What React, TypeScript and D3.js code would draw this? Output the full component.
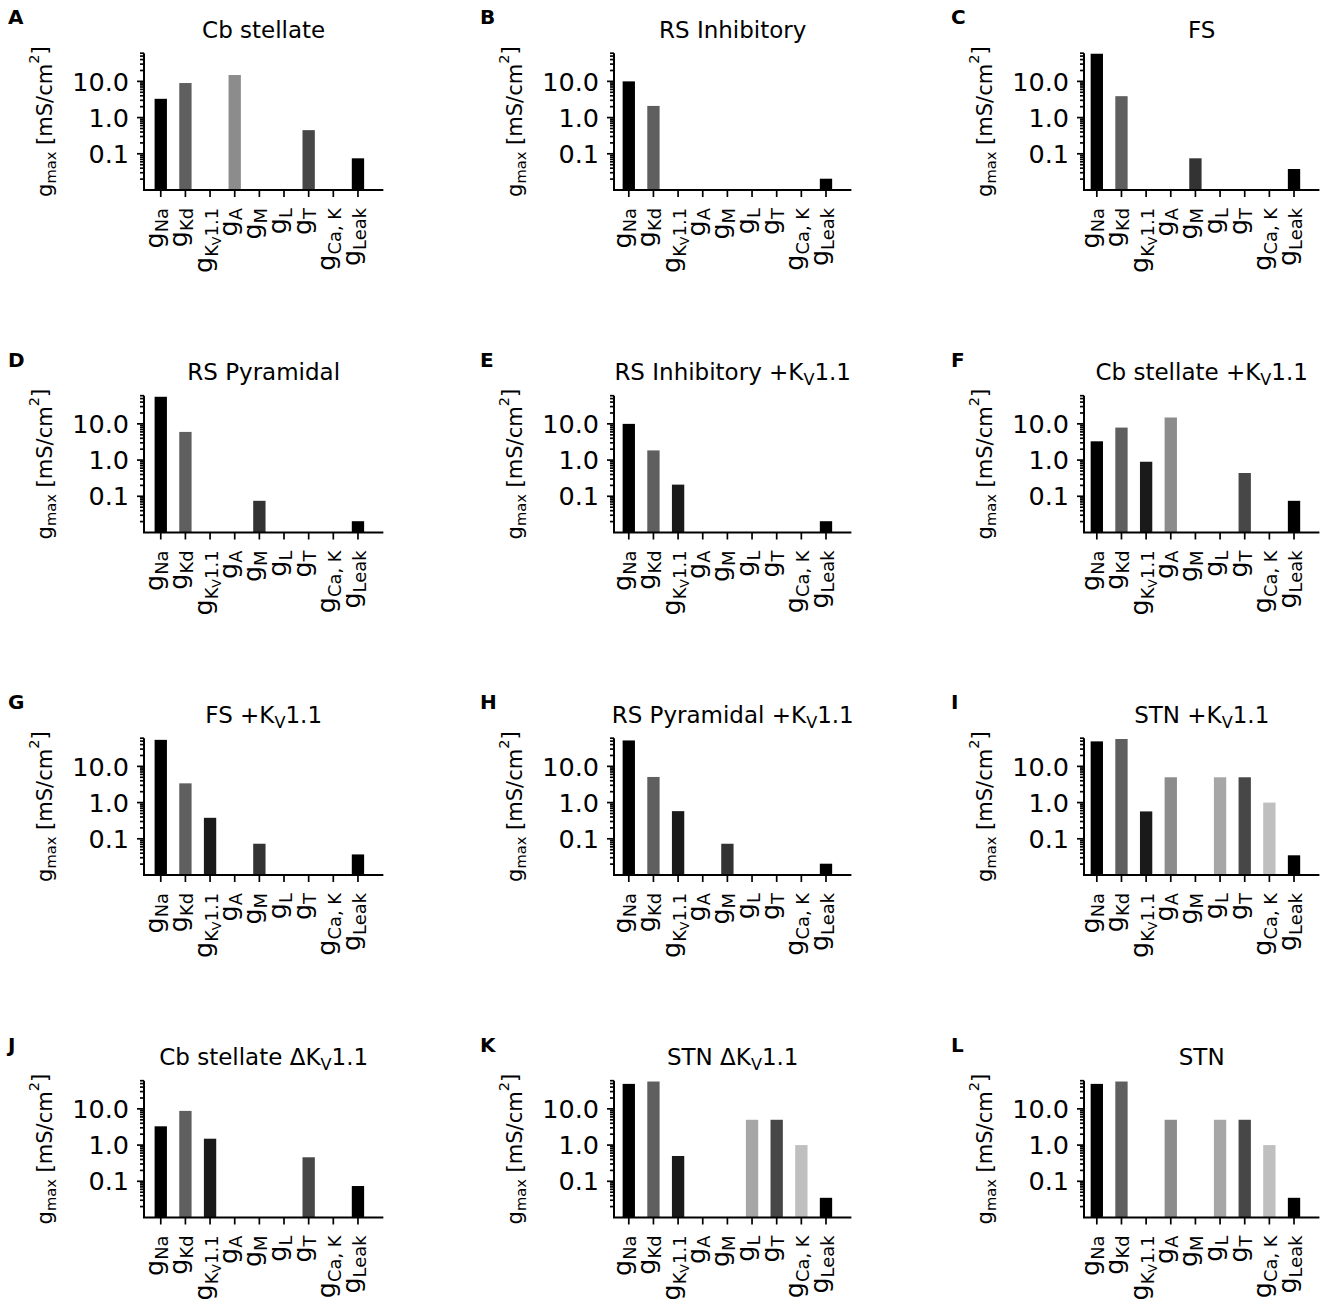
import React from 'react';
import * as d3 from 'd3';

// channel order on the x axis
const channels = ['Na', 'Kd', 'Kv1.1', 'A', 'M', 'L', 'T', 'CaK', 'Leak'];

type Seg = { t: string; lvl: number };

const tickLabels: Seg[][] = [
  [{ t: 'g', lvl: 0 }, { t: 'Na', lvl: 1 }],
  [{ t: 'g', lvl: 0 }, { t: 'Kd', lvl: 1 }],
  [{ t: 'g', lvl: 0 }, { t: 'K', lvl: 1 }, { t: 'V', lvl: 2 }, { t: '1.1', lvl: 1 }],
  [{ t: 'g', lvl: 0 }, { t: 'A', lvl: 1 }],
  [{ t: 'g', lvl: 0 }, { t: 'M', lvl: 1 }],
  [{ t: 'g', lvl: 0 }, { t: 'L', lvl: 1 }],
  [{ t: 'g', lvl: 0 }, { t: 'T', lvl: 1 }],
  [{ t: 'g', lvl: 0 }, { t: 'Ca, K', lvl: 1 }],
  [{ t: 'g', lvl: 0 }, { t: 'Leak', lvl: 1 }],
];

const barColors = ['#000000', '#5f5f5f', '#1a1a1a', '#8c8c8c', '#333333', '#a6a6a6', '#474747', '#bfbfbf', '#000000'];

const yTicks = [0.1, 1, 10];
const yTickLabels = ['0.1', '1.0', '10.0'];

// g_max values in mS/cm^2 (0 = channel absent)
const cbStellate = [3.3, 9.0, 0, 15, 0, 0, 0.45, 0, 0.075];
const rsInhib = [10, 2.1, 0, 0, 0, 0, 0, 0, 0.0205];
const fs = [58, 3.9, 0, 0, 0.075, 0, 0, 0, 0.038];
const rsPyr = [56, 6.0, 0, 0, 0.075, 0, 0, 0, 0.0205];
const rsInhibKv = [10, 1.85, 0.21, 0, 0, 0, 0, 0, 0.0205];
const cbStellateKv = [3.3, 7.9, 0.9, 15, 0, 0, 0.44, 0, 0.075];
const fsKv = [54, 3.4, 0.38, 0, 0.073, 0, 0, 0, 0.037];
const rsPyrKv = [52, 5.1, 0.58, 0, 0.073, 0, 0, 0, 0.0205];
const stnKv = [49, 57, 0.57, 5, 0, 5, 5, 1, 0.035];
const cbStellateDKv = [3.3, 8.8, 1.5, 0, 0, 0, 0.46, 0, 0.074];
const stnDKv = [49, 57, 0.5, 0, 0, 5, 5, 1, 0.035];
const stn = [49, 57, 0, 5, 0, 5, 5, 1, 0.035];

const panelValues = [
  cbStellate, rsInhib, fs,
  rsPyr, rsInhibKv, cbStellateKv,
  fsKv, rsPyrKv, stnKv,
  cbStellateDKv, stnDKv, stn,
];

const panelTitles: Seg[][] = [
  [{ t: 'Cb stellate', lvl: 0 }],
  [{ t: 'RS Inhibitory', lvl: 0 }],
  [{ t: 'FS', lvl: 0 }],
  [{ t: 'RS Pyramidal', lvl: 0 }],
  [{ t: 'RS Inhibitory +K', lvl: 0 }, { t: 'V', lvl: 1 }, { t: '1.1', lvl: 0 }],
  [{ t: 'Cb stellate +K', lvl: 0 }, { t: 'V', lvl: 1 }, { t: '1.1', lvl: 0 }],
  [{ t: 'FS +K', lvl: 0 }, { t: 'V', lvl: 1 }, { t: '1.1', lvl: 0 }],
  [{ t: 'RS Pyramidal +K', lvl: 0 }, { t: 'V', lvl: 1 }, { t: '1.1', lvl: 0 }],
  [{ t: 'STN +K', lvl: 0 }, { t: 'V', lvl: 1 }, { t: '1.1', lvl: 0 }],
  [{ t: 'Cb stellate \u0394K', lvl: 0 }, { t: 'V', lvl: 1 }, { t: '1.1', lvl: 0 }],
  [{ t: 'STN \u0394K', lvl: 0 }, { t: 'V', lvl: 1 }, { t: '1.1', lvl: 0 }],
  [{ t: 'STN', lvl: 0 }],
];

const panelLetters = ['A', 'B', 'C', 'D', 'E', 'F', 'G', 'H', 'I', 'J', 'K', 'L'];

// layout
const W = 1325;
const H = 1308;
const colAxisLeft = [144, 614, 1084];
const colXMin = [-0.68, -0.6, -0.52];
const xMax = 9.03;
const step = 24.65;
const rowBottom = [190, 532.5, 875, 1217.5];
const axisHeight = 136.8;
const letterX = [8, 480, 951];
const font = 'DejaVu Sans, sans-serif';
const ink = '#000';
const titleSize = 23;
const tickSize = 25.5;
const labelSize = 21;

const sizeScale = [1, 0.7, 0.5];
const subShift = [0, 0.22, 0.34];

function renderSegs(segs: Seg[], base: number) {
  let cur = 0;
  return segs.map((s, i) => {
    const off = subShift[s.lvl] * base;
    const dy = off - cur;
    cur = off;
    return (
      <tspan key={i} fontSize={base * sizeScale[s.lvl]} dy={dy}>
        {s.t}
      </tspan>
    );
  });
}

const yLabelSegs: Seg[] = [{ t: 'g', lvl: 0 }, { t: 'max', lvl: 1 }, { t: ' [mS/cm', lvl: 0 }];

function Panel({ idx }: { idx: number }) {
  const col = idx % 3;
  const row = Math.floor(idx / 3);
  const left = colAxisLeft[col];
  const right = left + (xMax - colXMin[col]) * step;
  const bottom = rowBottom[row];
  const top = bottom - axisHeight;

  const x = d3.scaleLinear().domain([colXMin[col], xMax]).range([left, right]);
  const y = d3.scaleLog().domain([0.01, 60]).range([bottom, top]);
  const bw = x(0.5) - x(0);

  const minorTicks: number[] = [];
  [0.01, 0.1, 1, 10].forEach(dec => {
    for (let k = 2; k <= 9; k++) {
      const v = dec * k;
      if (v <= 60.0001) minorTicks.push(v);
    }
  });

  const values = panelValues[idx];
  const midY = (top + bottom) / 2;
  const ylx = left - 92.5;

  return (
    <g>
      <text x={letterX[col]} y={bottom - 166} fontSize={20} fontWeight="bold" fontFamily={font} fill={ink}>
        {panelLetters[idx]}
      </text>
      <text x={(left + right) / 2} y={top - 15.5} fontSize={titleSize} fontFamily={font} textAnchor="middle" fill={ink}>
        {renderSegs(panelTitles[idx], titleSize)}
      </text>

      {values.map((v, i) =>
        v > 0.01 ? (
          <rect
            key={i}
            x={x(i) - bw / 2}
            y={y(v)}
            width={bw}
            height={bottom - y(v)}
            fill={barColors[i]}
          />
        ) : null
      )}

      {/* y axis */}
      <line x1={left} x2={left} y1={bottom} y2={top} stroke={ink} strokeWidth={2} />
      {minorTicks.map(v => (
        <line key={'m' + v} x1={left - 4} x2={left} y1={y(v)} y2={y(v)} stroke={ink} strokeWidth={1.7} />
      ))}
      {yTicks.map((v, i) => (
        <g key={'t' + v}>
          <line x1={left - 7} x2={left} y1={y(v)} y2={y(v)} stroke={ink} strokeWidth={1.7} />
          <text x={left - 15} y={y(v)} dy="0.36em" fontSize={tickSize} fontFamily={font} textAnchor="end" fill={ink}>
            {yTickLabels[i]}
          </text>
        </g>
      ))}
      <text
        transform={`translate(${ylx},${midY}) rotate(-90)`}
        fontSize={labelSize}
        fontFamily={font}
        textAnchor="middle"
        fill={ink}
      >
        {renderSegs(yLabelSegs, labelSize)}
        <tspan fontSize={labelSize * 0.7} dy={-0.58 * labelSize}>2</tspan>
        <tspan dy={0.36 * labelSize}>]</tspan>
      </text>

      {/* x axis */}
      <line x1={left - 1} x2={right} y1={bottom} y2={bottom} stroke={ink} strokeWidth={2} />
      {channels.map((c, i) => (
        <g key={c}>
          <line x1={x(i)} x2={x(i)} y1={bottom} y2={bottom + 7} stroke={ink} strokeWidth={1.7} />
          <text
            transform={`translate(${x(i) + 2},${bottom + 18}) rotate(-90)`}
            fontSize={tickSize}
            fontFamily={font}
            textAnchor="end"
            fill={ink}
          >
            {renderSegs(tickLabels[i], tickSize)}
          </text>
        </g>
      ))}
    </g>
  );
}

export default function App() {
  return (
    <svg width={W} height={H} style={{ position: 'absolute', left: 0, top: 0, background: '#fff' }}>
      <rect width={W} height={H} fill="#fff" />
      {panelValues.map((_, i) => (
        <Panel key={i} idx={i} />
      ))}
    </svg>
  );
}
